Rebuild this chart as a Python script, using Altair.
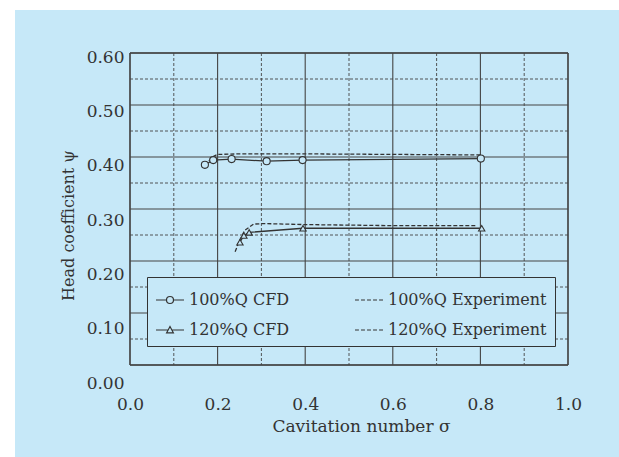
import altair as alt
import pandas as pd

BG = "#C6E8F8"
INK = "#333333"
GRID = "#444444"
FONT = "DejaVu Serif"

# ---- data ----
cfd100_sigma = [0.171, 0.190, 0.232, 0.312, 0.394, 0.801]
cfd100_psi = [0.385, 0.394, 0.396, 0.392, 0.394, 0.397]
exp100_sigma = [0.180, 0.190, 0.200, 0.250, 0.400, 0.600, 0.800]
exp100_psi = [0.392, 0.401, 0.405, 0.406, 0.406, 0.405, 0.404]
cfd120_sigma = [0.251, 0.260, 0.272, 0.395, 0.803]
cfd120_psi = [0.236, 0.249, 0.255, 0.263, 0.263]
exp120_sigma = [0.240, 0.250, 0.262, 0.282, 0.305, 0.400, 0.600, 0.790]
exp120_psi = [0.218, 0.239, 0.259, 0.271, 0.272, 0.270, 0.268, 0.268]

series_names = ["100%Q CFD", "120%Q CFD", "100%Q Experiment", "120%Q Experiment"]
x_ticks = [0.0, 0.2, 0.4, 0.6, 0.8, 1.0]
y_ticks = [0.0, 0.1, 0.2, 0.3, 0.4, 0.5, 0.6]
x_major = [0.0, 0.2, 0.4, 0.6, 0.8, 1.0]
x_minor = [0.1, 0.3, 0.5, 0.7, 0.9]
y_major = [0.0, 0.1, 0.2, 0.3, 0.4, 0.5, 0.6]
y_minor = [0.05, 0.15, 0.25, 0.35, 0.45, 0.55]

W, H = 438, 312
PAD = {"left": 130, "top": 53, "right": 51, "bottom": 92}

xscale = alt.Scale(domain=[0, 1], nice=False, zero=False)
yscale = alt.Scale(domain=[0, 0.6], nice=False, zero=False)

bg = alt.Chart(pd.DataFrame({"a": [0]})).mark_rect(color=BG).encode(
    x=alt.value(-115), x2=alt.value(W + PAD["right"]),
    y=alt.value(-43), y2=alt.value(H + PAD["bottom"]),
)

def vrule(vals, dash=None, width=1.1):
    kw = dict(color=GRID, strokeWidth=width)
    if dash:
        kw["strokeDash"] = dash
    return alt.Chart(pd.DataFrame({"v": vals})).mark_rule(**kw).encode(
        x=alt.X("v:Q", scale=xscale, axis=None))

def hrule(vals, dash=None, width=1.1):
    kw = dict(color=GRID, strokeWidth=width)
    if dash:
        kw["strokeDash"] = dash
    return alt.Chart(pd.DataFrame({"v": vals})).mark_rule(**kw).encode(
        y=alt.Y("v:Q", scale=yscale, axis=None))

def line(sig, psi, dash=None):
    kw = dict(color=INK, strokeWidth=1.3)
    if dash:
        kw["strokeDash"] = dash
    return alt.Chart(pd.DataFrame({"s": sig, "p": psi})).mark_line(**kw).encode(
        x=alt.X("s:Q", scale=xscale, axis=None),
        y=alt.Y("p:Q", scale=yscale, axis=None),
    )

def pts(sig, psi, shape, size):
    return alt.Chart(pd.DataFrame({"s": sig, "p": psi})).mark_point(
        shape=shape, size=size, filled=True, fill=BG, stroke=INK, strokeWidth=1.1, opacity=1
    ).encode(
        x=alt.X("s:Q", scale=xscale, axis=None),
        y=alt.Y("p:Q", scale=yscale, axis=None),
    )

# x-axis labels and title
xlab = alt.Chart(pd.DataFrame({"v": x_ticks})).mark_point(opacity=0).encode(
    x=alt.X("v:Q", scale=xscale,
            axis=alt.Axis(values=x_ticks, format=".1f", ticks=False, tickSize=0,
                          domain=False, grid=False, labelFlush=False, labelOverlap=False,
                          labelPadding=31, zindex=2, labelFont=FONT, labelFontSize=17,
                          labelColor=INK, title="Cavitation number  σ", titleFont=FONT,
                          titleFontSize=17, titleFontWeight="normal", titleColor=INK,
                          titleX=231, titleY=61, titleAlign="center",
                          titleBaseline="middle"))
)

# y-axis labels (their spacing in the reference is slightly wider than the grid)
ylab = alt.Chart(pd.DataFrame({"v": y_ticks})).mark_point(opacity=0).encode(
    y=alt.Y("v:Q", scale=alt.Scale(domain=[0, 0.6], range=[H + 18, 4], nice=False, zero=False),
            axis=alt.Axis(values=y_ticks, format=".2f", ticks=False, tickSize=0, zindex=2,
                          domain=False, grid=False, labelFlush=False, labelOverlap=False,
                          labelPadding=6, labelFont=FONT, labelFontSize=17, labelColor=INK,
                          title="Head coefficient  ψ", titleFont=FONT, titleFontSize=16,
                          titleFontWeight="normal", titleColor=INK, titleX=-62, titleY=172,
                          titleAlign="center", titleBaseline="middle", titleAngle=270))
)

sym_circle = "M-1,0L-0.25,0M0.25,0L1,0M0.25,0A0.25,0.25,0,1,1,-0.25,0A0.25,0.25,0,1,1,0.25,0"
sym_tri = "M-1,0L-0.15,0M0.15,0L1,0M-0.24,0.2L0.24,0.2L0,-0.25Z"
sym_dash = "M-1,0L-0.72,0M-0.57,0L-0.29,0M-0.14,0L0.14,0M0.29,0L0.57,0M0.72,0L1,0"

legend_layer = alt.Chart(pd.DataFrame({"series": series_names})).transform_filter(
    "false").mark_point(size=784, filled=False, color=INK, strokeWidth=1.2, opacity=1).encode(
    shape=alt.Shape("series:N",
                    scale=alt.Scale(domain=series_names,
                                    range=[sym_circle, sym_tri, sym_dash, sym_dash]),
                    legend=alt.Legend(orient="none", legendX=17, legendY=224, columns=2,
                                      title=None, padding=8, rowPadding=7, columnPadding=62,
                                      strokeColor=INK, fillColor=BG, labelFont=FONT,
                                      labelFontSize=16, labelColor=INK, labelLimit=300,
                                      labelOffset=4, symbolSize=784, symbolStrokeWidth=1.2,
                                      symbolStrokeColor=INK, symbolOpacity=1))
)

chart = alt.layer(
    bg,
    hrule(y_minor, dash=[3, 2], width=0.9),
    vrule(x_minor, dash=[3, 2], width=0.9),
    hrule(y_major),
    vrule(x_major),
    hrule([0.0, 0.6], width=1.3),
    vrule([0.0, 1.0], width=1.3),
    line(exp100_sigma, exp100_psi, dash=[4, 2]),
    line(exp120_sigma, exp120_psi, dash=[4, 2]),
    line(cfd100_sigma, cfd100_psi),
    line(cfd120_sigma, cfd120_psi),
    pts(cfd100_sigma, cfd100_psi, "circle", 50),
    pts(cfd120_sigma, cfd120_psi, "triangle-up", 40),
    legend_layer,
    xlab,
    ylab,
).resolve_scale(x="independent", y="independent").properties(
    width=W, height=H, padding=PAD, autosize=alt.AutoSizeParams(type="none"),
    background="white",
).configure_view(stroke="transparent")

chart.save("out.html", embed_options={"renderer": "svg", "actions": False})
